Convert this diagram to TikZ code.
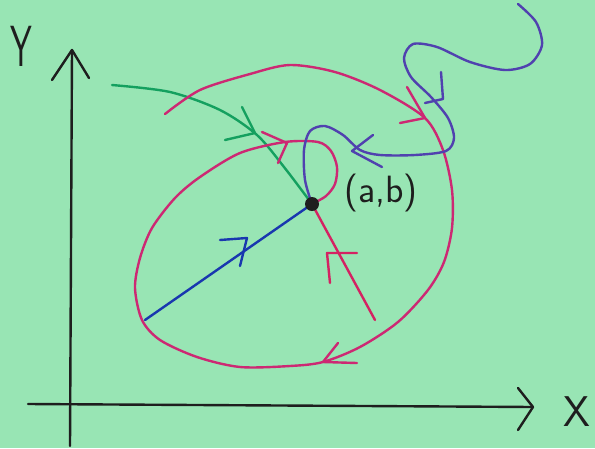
\documentclass[tikz,border=0pt]{standalone}
\usepackage{fontspec}
\usetikzlibrary{positioning}
\definecolor{paper}{RGB}{152,229,180}
\definecolor{penmagenta}{RGB}{205,40,115}
\definecolor{pengreen}{RGB}{20,160,95}
\definecolor{penblue}{RGB}{25,55,175}
\definecolor{penpurple}{RGB}{80,65,175}
\definecolor{penblack}{RGB}{30,30,30}

\begin{document}
\begin{tikzpicture}[
		x=1pt,y=-1pt,
		pen/.style={line width=2.4pt,line cap=round,line join=round},
		label/.style={font=\sffamily,text=penblack,inner sep=0pt},
		dot/.style={circle,fill=penblack,minimum size=14pt,inner sep=0pt}
		]
		
		\fill[paper] (0,0) rectangle (595,448);
		\useasboundingbox (0,0) rectangle (595,448);
		
		% axes
		\coordinate (ybot) at (70,446);
		\coordinate (ytop) at (72,50);
		\coordinate (xleft) at (28,404);
		\coordinate (xright) at (533,407);
		\draw[pen,penblack] (ybot)--(ytop);
		\draw[pen,penblack] (52,80)--(ytop)--(89,78);
		\draw[pen,penblack] (xleft)--(xright);
		\draw[pen,penblack] (518,388)--(xright)--(518,430);
		
		\node[label,font=\sffamily\fontsize{58}{58}\selectfont,xscale=0.6] (ylab) at (21,46) {Y};
		\node[label,font=\sffamily\fontsize{43}{43}\selectfont] (xlab) at (577,412) {X};
		
		% the point
		\coordinate (ab) at (312,204);
		
		% green path
		\draw[pen,pengreen] plot[smooth] coordinates {(112,85) (170,92) (220,110) (257,135) (284,167) (ab)};
		\draw[pen,pengreen] (242,107)--(255,133)--(225,140);
		
		% blue straight path
		\coordinate (bluestart) at (145,320);
		\draw[pen,penblue] (bluestart)--(ab);
		\draw[pen,penblue] (220,240)--(247,238)--(240,266);
		
		% red straight path
		\coordinate (redstart) at (375,320);
		\draw[pen,penmagenta!85!red] (redstart)--(ab);
		\draw[pen,penmagenta!85!red] (357,253)--(327,253)--(330,283);
		
		% magenta spiral
		\draw[pen,penmagenta] plot[smooth] coordinates {(165,114) (200,90) (250,74) (290,65) (335,72) (380,90) (425,118) (443,150) (452,190) (452,228) (444,262) (428,290) (398,322) (360,347) (323,362) (290,366) (240,367) (197,357) (160,340) (142,320) (135,288) (140,258) (152,228) (175,198) (200,177) (240,153) (285,142) (318,142) (331,151) (337,167) (335,184) (326,196) (ab)};
		\draw[pen,penmagenta] (407,87)--(425,118)--(400,123);
		\draw[pen,penmagenta] (262,132)--(287,143)--(278,163);
		\draw[pen,penmagenta] (338,343)--(323,362)--(357,363);
		
		% purple wiggle
		\draw[pen,penpurple] plot[smooth] coordinates {(518,4) (536,22) (542,45) (530,64) (505,70) (470,62) (437,47) (413,44) (404,58) (411,77) (431,97) (448,118) (454,138) (446,151) (415,155) (380,155) (360,150) (343,135) (325,126) (310,131) (304,150) (305,180) (ab)};
		\draw[pen,penpurple] (441,72)--(443,99)--(425,103);
		\draw[pen,penpurple] (373,135)--(352,151)--(382,167);
		
		\node[dot] (pt) at (ab) {};
		\node[label,font=\sffamily\fontsize{38}{38}\selectfont,anchor=west] (ablab) at (344,193) {(a,b)};
		
	\end{tikzpicture}
\end{document}
